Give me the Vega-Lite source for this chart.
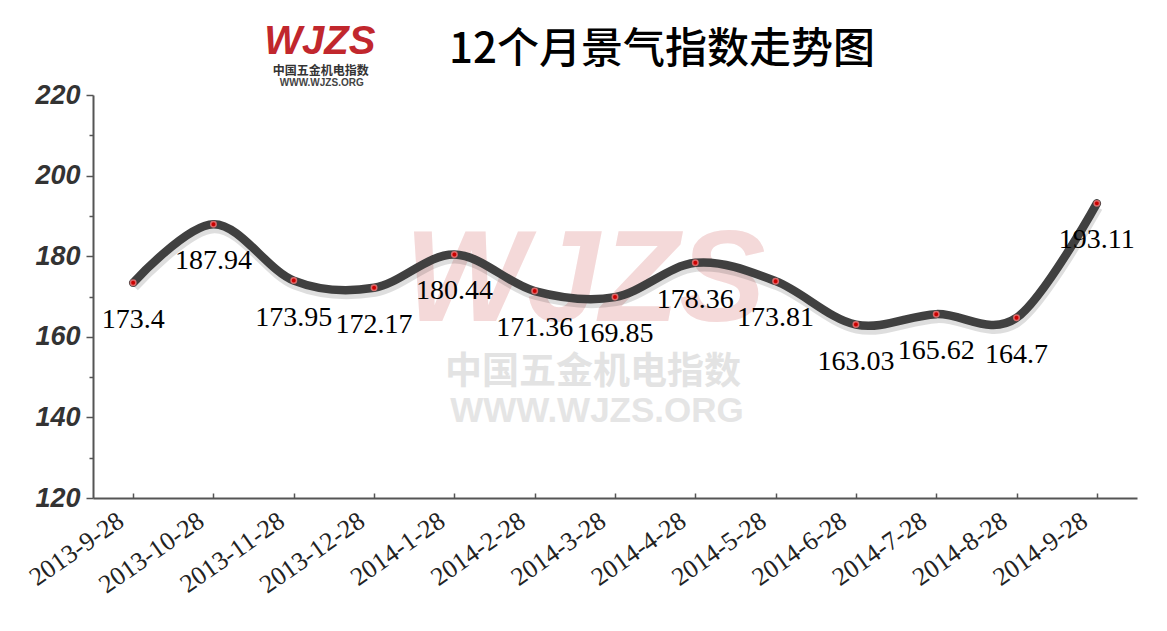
{
  "$schema": "https://vega.github.io/schema/vega-lite/v6.json",
  "width": 1044,
  "height": 403,
  "autosize": "none",
  "padding": {"left": 93, "top": 95, "right": 30, "bottom": 133},
  "background": "white",
  "config": {"view": {"stroke": null}},
  "title": {
    "text": "12个月景气指数走势图",
    "font": "Noto Sans CJK SC",
    "fontSize": 42,
    "fontWeight": 500,
    "color": "#000000",
    "anchor": "middle",
    "dx": 47,
    "offset": -50
  },
  "datasets": {
    "index": [
      {"date": "2013-9-28", "value": 173.4},
      {"date": "2013-10-28", "value": 187.94},
      {"date": "2013-11-28", "value": 173.95},
      {"date": "2013-12-28", "value": 172.17},
      {"date": "2014-1-28", "value": 180.44},
      {"date": "2014-2-28", "value": 171.36},
      {"date": "2014-3-28", "value": 169.85},
      {"date": "2014-4-28", "value": 178.36},
      {"date": "2014-5-28", "value": 173.81},
      {"date": "2014-6-28", "value": 163.03},
      {"date": "2014-7-28", "value": 165.62},
      {"date": "2014-8-28", "value": 164.7},
      {"date": "2014-9-28", "value": 193.11}
    ],
    "one": [{"k": 1}]
  },
  "layer": [
    {
      "data": {"name": "one"},
      "mark": {"type": "text", "text": "WJZS", "font": "Liberation Sans", "fontStyle": "italic", "fontWeight": "bold", "fontSize": 130, "fill": "#f4d9d9", "align": "center", "baseline": "middle", "dx": -30},
      "encoding": {"x": {"datum": "2014-3-28", "type": "ordinal"}, "y": {"datum": 173.6, "type": "quantitative"}}
    },
    {
      "data": {"name": "one"},
      "mark": {"type": "text", "text": "中国五金机电指数", "font": "Noto Sans CJK SC", "fontWeight": "bold", "fontSize": 37, "fill": "#e3e3e3", "align": "center", "baseline": "middle", "dx": -22},
      "encoding": {"x": {"datum": "2014-3-28", "type": "ordinal"}, "y": {"datum": 151, "type": "quantitative"}}
    },
    {
      "data": {"name": "one"},
      "mark": {"type": "text", "text": "WWW.WJZS.ORG", "font": "Liberation Sans", "fontWeight": "bold", "fontSize": 35, "fill": "#e5e5e5", "align": "center", "baseline": "middle", "dx": -18},
      "encoding": {"x": {"datum": "2014-3-28", "type": "ordinal"}, "y": {"datum": 141.6, "type": "quantitative"}}
    },
    {
      "data": {"name": "one"},
      "mark": {"type": "text", "text": "WJZS", "font": "Liberation Sans", "fontStyle": "italic", "fontWeight": "bold", "fontSize": 40, "fill": "#c1272d", "align": "center", "baseline": "middle", "dx": 26},
      "encoding": {"x": {"datum": "2013-11-28", "type": "ordinal"}, "y": {"datum": 233.2, "type": "quantitative"}}
    },
    {
      "data": {"name": "one"},
      "mark": {"type": "text", "text": "中国五金机电指数", "font": "Noto Sans CJK SC", "fontWeight": "bold", "fontSize": 12, "fill": "#333333", "align": "center", "baseline": "middle", "dx": 27},
      "encoding": {"x": {"datum": "2013-11-28", "type": "ordinal"}, "y": {"datum": 226, "type": "quantitative"}}
    },
    {
      "data": {"name": "one"},
      "mark": {"type": "text", "text": "WWW.WJZS.ORG", "font": "Liberation Sans", "fontWeight": "bold", "fontSize": 10, "fill": "#444444", "align": "center", "baseline": "middle", "dx": 28},
      "encoding": {"x": {"datum": "2013-11-28", "type": "ordinal"}, "y": {"datum": 223, "type": "quantitative"}}
    },
    {
      "data": {"name": "index"},
      "encoding": {
        "x": {
          "field": "date",
          "type": "ordinal",
          "scale": {
            "type": "point",
            "padding": 0.5,
            "domain": ["2013-9-28", "2013-10-28", "2013-11-28", "2013-12-28", "2014-1-28", "2014-2-28", "2014-3-28", "2014-4-28", "2014-5-28", "2014-6-28", "2014-7-28", "2014-8-28", "2014-9-28"]
          },
          "axis": {
            "title": null,
            "labelAngle": -35,
            "labelAlign": "right",
            "labelBaseline": "top",
            "labelOffset": -20,
            "labelPadding": 14,
            "labelFont": "Liberation Serif",
            "labelFontSize": 26,
            "labelColor": "#222222",
            "domainColor": "#555555",
            "domainWidth": 2,
            "tickColor": "#555555",
            "tickWidth": 1.5,
            "tickSize": -5,
            "grid": false
          }
        },
        "y": {
          "field": "value",
          "type": "quantitative",
          "scale": {"domain": [120, 220], "nice": false, "zero": false},
          "axis": {
            "title": null,
            "values": [120, 130, 140, 150, 160, 170, 180, 190, 200, 210, 220],
            "labelExpr": "datum.value % 20 === 0 ? datum.label : ''",
            "labelFont": "Liberation Sans",
            "labelFontStyle": "italic",
            "labelFontWeight": "bold",
            "labelFontSize": 27,
            "labelColor": "#333333",
            "labelPadding": 6,
            "domainColor": "#555555",
            "domainWidth": 2,
            "tickColor": "#555555",
            "tickWidth": 1.5,
            "tickSize": {"condition": {"test": "datum.value % 20 === 0", "value": 7}, "value": 4},
            "grid": false
          }
        }
      },
      "layer": [
        {
          "mark": {"type": "line", "interpolate": "cardinal", "stroke": "#000000", "strokeOpacity": 0.13, "strokeWidth": 10, "yOffset": 4, "xOffset": 1},
          "encoding": {}
        },
        {
          "mark": {"type": "line", "interpolate": "cardinal", "stroke": "#404040", "strokeWidth": 8.5, "strokeCap": "round"},
          "encoding": {}
        },
        {
          "mark": {"type": "point", "filled": true, "shape": "circle", "size": 30, "fill": "#cc0000", "fillOpacity": 1, "stroke": "#e07070", "strokeWidth": 1.5, "strokeOpacity": 0.9},
          "encoding": {}
        },
        {
          "mark": {"type": "text", "font": "Liberation Serif", "fontSize": 28, "fill": "#000000", "align": "center", "baseline": "middle", "dy": 37},
          "encoding": {"text": {"field": "value", "type": "nominal"}}
        }
      ]
    }
  ]
}
